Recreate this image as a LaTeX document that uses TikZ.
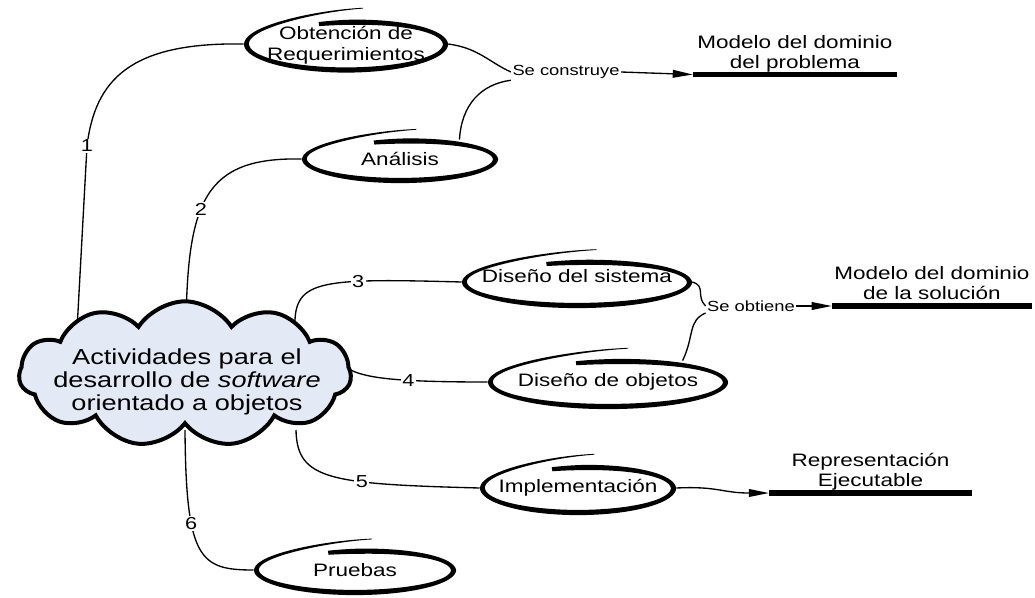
\documentclass[tikz,border=0pt]{standalone}
\usepackage{fontspec}
\setmainfont{Liberation Sans}[FakeStretch=1.25]
\usetikzlibrary{shapes.geometric,shapes.symbols,arrows.meta,backgrounds}
\definecolor{cloudfill}{RGB}{227,234,246}

% hand-brushed ellipse around a named node: #1 node, #2 x-radius, #3 y-radius (px)
\newcommand\brushring[3]{%
  \fill[shift={(#1.center)}]
    plot[variable=\bp,domain=0:1,samples=140]
      ({(#2*bsx(\bp)+bw(\bp)/2)*cos(bth(\bp))},{-(#3*bsy(\bp)+bw(\bp)/2)*sin(bth(\bp))})
    -- plot[variable=\bp,domain=0:1,samples=140]
      ({(#2*bsx(1-\bp)-bw(1-\bp)/2)*cos(bth(1-\bp))},{-(#3*bsy(1-\bp)-bw(1-\bp)/2)*sin(bth(1-\bp))})
    -- cycle;}

\begin{document}
\begin{tikzpicture}[x=0.75pt,y=-0.75pt,
  declare function={
    bth(\u)=80+387*\u;
    bsy(\u)=1+0.4*max(0,1-\u/0.25)^2-0.2*max(0,(\u-0.72)/0.28);
    bsx(\u)=1-0.06*max(0,(\u-0.72)/0.28);
    bw(\u)=0.8+4.4*min(1,\u/0.28)-1.0*max(0,(\u-0.95)/0.05);},
  actshape/.style={ellipse,inner sep=0pt},
  acttext/.style={inner sep=0pt,align=center,font=\fontsize{13.5}{15.5}\selectfont},
  result/.style={anchor=south,align=center,inner xsep=0pt,inner ysep=1.5pt,
    text depth=3pt,font=\fontsize{13.5}{15}\selectfont},
  bar/.style={line width=4.2pt},
  via/.style={fill=white,inner sep=1pt,font=\fontsize{11}{12}\selectfont},
  num/.style={fill=white,inner sep=1pt,font=\fontsize{13}{14}\selectfont},
  link/.style={line width=1pt},
  toresult/.style={link,-{Triangle[length=15pt,width=5.8pt]}}]
\useasboundingbox (0,0) rectangle (1035,597);

% activities
\node[actshape,minimum width=153pt,minimum height=41pt] (obt) at (346,44) {};
\node[acttext] (obt-t) at ([yshift=-1pt]obt.center) {Obtención de\\Requerimientos};
\node[actshape,minimum width=147pt,minimum height=36pt] (ana) at (400,159) {};
\node[acttext] (ana-t) at (ana) {Análisis};
\node[actshape,minimum width=172.5pt,minimum height=39pt] (dsis) at (577,282) {};
\node[acttext] (dsis-t) at ([yshift=4.5pt]dsis.center) {Diseño del sistema};
\node[actshape,minimum width=180pt,minimum height=40.5pt] (dobj) at (608,382) {};
\node[acttext] (dobj-t) at (dobj) {Diseño de objetos};
\node[actshape,minimum width=147pt,minimum height=40.5pt] (imp) at (578,488) {};
\node[acttext] (imp-t) at (imp) {Implementación};
\node[actshape,minimum width=151.5pt,minimum height=37.5pt] (pru) at (355,570) {};
\node[acttext] (pru-t) at (pru) {Pruebas};

\brushring{obt}{99.5}{26}
\brushring{ana}{95.5}{21.5}
\brushring{dsis}{112.5}{23.5}
\brushring{dobj}{117.5}{24.5}
\brushring{imp}{95.5}{24.5}
\brushring{pru}{98.5}{22.5}

% central cloud
\node[cloud,cloud puffs=11,cloud puff arc=115,cloud ignores aspect,
  minimum width=249pt,minimum height=109pt,inner sep=0pt,
  draw,line width=3pt,fill=cloudfill] (act) at (185,374) {};
\node[align=center,inner sep=0pt,font=\fontsize{16.3}{17}\selectfont] (act-t) at (187,382)
  {Actividades para el\\desarrollo de \textit{software}\\orientado a objetos};
\coordinate (c1) at (77,330);
\coordinate (c2) at (186,330);
\coordinate (c3) at (295,330);
\coordinate (c4) at (335,360);
\coordinate (c5) at (296,430);
\coordinate (c6) at (185,430);

% results
\node[result,minimum width=153pt] (mp) at (795,74.5) {Modelo del dominio\\del problema};
\draw[bar] (mp.south west) -- (mp.south east);
\node[result,minimum width=150pt] (ms) at (932,306) {Modelo del dominio\\de la solución};
\draw[bar] (ms.south west) -- (ms.south east);
\node[result,minimum width=152pt] (mr) at (870.5,493) {Representación\\Ejecutable};
\draw[bar] (mr.south west) -- (mr.south east);

\node[via] (sc) at (566,72) {Se construye};
\node[via] (so) at (751,306) {Se obtiene};

\begin{pgfonlayer}{background}
\fill[white] (0,0) rectangle (1035,597);
\draw[link] (c1) -- (87,146) node[num,pos=1] {1} .. controls (95,80) and (130,42) .. (obt.west);
\draw[link] (c2) .. controls (187,200) and (205,157) .. (ana.west) node[num,pos=0.42] {2};
\draw[link] (c3) .. controls (293,280) and (315,278) .. (dsis.west) node[num,pos=0.69] {3};
\draw[link] (c4) .. controls (355,375) and (365,382) .. (dobj.west) node[num,pos=0.72] {4};
\draw[link] (c5) .. controls (297,480) and (330,484) .. (imp.west) node[num,pos=0.65] {5};
\draw[link] (c6) .. controls (186,560) and (200,570) .. (pru.west) node[num,pos=0.33] {6};

\draw[link] (obt.east) .. controls +(30,4) and +(-22,-10) .. (sc.west);
\draw[link] (ana.18) .. controls +(2,-35) and +(-30,4) .. (sc.south west);
\draw[toresult] (sc.east) -- (mp.south west);

\draw[link] (dsis.east) .. controls +(14,4) and +(-10,-10) .. (so.west);
\draw[link] (dobj.16) .. controls +(12,-25) and +(-18,8) .. (so.south west);
\draw[toresult] (so.east) -- (ms.south west);

\draw[toresult] (imp.east) .. controls (718,486) and (722,493) .. (mr.south west);
\end{pgfonlayer}
\end{tikzpicture}
\end{document}
